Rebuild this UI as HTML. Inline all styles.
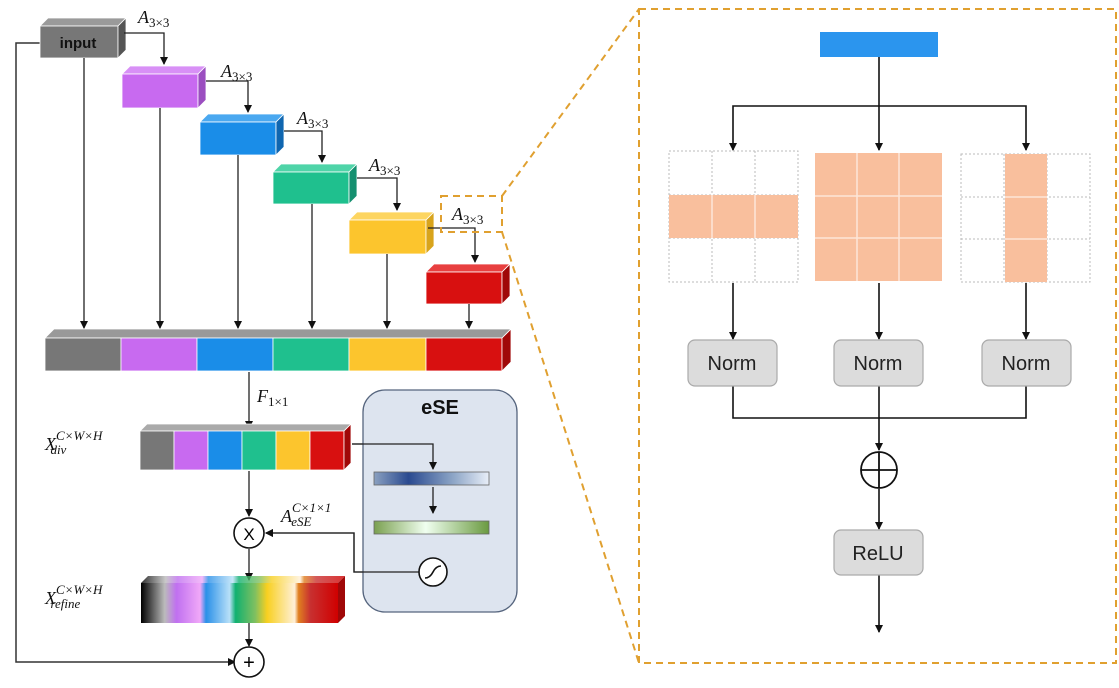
<!DOCTYPE html>
<html><head><meta charset="utf-8"><style>html,body{margin:0;padding:0;background:#fff}svg{display:block}</style></head>
<body>
<svg width="1119" height="688" viewBox="0 0 1119 688" xmlns="http://www.w3.org/2000/svg" font-family="Liberation Serif, serif">
<defs>
<marker id="ar" markerWidth="8" markerHeight="8" refX="7" refY="4" orient="auto" markerUnits="userSpaceOnUse"><path d="M0,0 L8,4 L0,8 z" fill="#111"/></marker>
<linearGradient id="rf" x1="0" x2="1">
<stop offset="0" stop-color="#000"/><stop offset="0.12" stop-color="#bbb"/><stop offset="0.18" stop-color="#c070f0"/><stop offset="0.3" stop-color="#f0a8f8"/><stop offset="0.33" stop-color="#2a90e8"/><stop offset="0.45" stop-color="#b8e0f8"/><stop offset="0.48" stop-color="#10b070"/><stop offset="0.58" stop-color="#80c060"/><stop offset="0.64" stop-color="#f8d020"/><stop offset="0.78" stop-color="#fff0d8"/><stop offset="0.8" stop-color="#e08020"/><stop offset="0.86" stop-color="#c83030"/><stop offset="1" stop-color="#d00000"/></linearGradient>
<linearGradient id="b1" x1="0" x2="1"><stop offset="0" stop-color="#8aa0c0"/><stop offset="0.3" stop-color="#2a4a90"/><stop offset="0.7" stop-color="#90a8c8"/><stop offset="1" stop-color="#e8eef8"/></linearGradient>
<linearGradient id="b2" x1="0" x2="1"><stop offset="0" stop-color="#7aa050"/><stop offset="0.45" stop-color="#f0fff0"/><stop offset="1" stop-color="#6a9a40"/></linearGradient>
</defs>

<!-- left skip line -->
<polyline points="40,43 16,43 16,662 235,662" fill="none" stroke="#333" stroke-width="1.5" marker-end="url(#ar)"/>

<!-- boxes -->
<g stroke="#fff" stroke-width="0.8">
<polygon points="40,26 48,18 126,18 118,26" fill="#9a9a9a"/><rect x="40" y="26" width="78" height="32" fill="#777"/><polygon points="118,26 126,18 126,50 118,58" fill="#555"/>
<polygon points="122,74 130,66 206,66 198,74" fill="#d890f6"/><rect x="122" y="74" width="76" height="34" fill="#c86af0"/><polygon points="198,74 206,66 206,100 198,108" fill="#9b4ec0"/>
<polygon points="200,122 208,114 284,114 276,122" fill="#4aa8f0"/><rect x="200" y="122" width="76" height="33" fill="#1a8de8"/><polygon points="276,122 284,114 284,147 276,155" fill="#0f66b0"/>
<polygon points="273,172 281,164 357,164 349,172" fill="#4fd4a8"/><rect x="273" y="172" width="76" height="32" fill="#1fc08e"/><polygon points="349,172 357,164 357,196 349,204" fill="#159070"/>
<polygon points="349,220 357,212 434,212 426,220" fill="#fdd560"/><rect x="349" y="220" width="77" height="34" fill="#fcc52d"/><polygon points="426,220 434,212 434,246 426,254" fill="#d8a41c"/>
<polygon points="426,272 434,264 510,264 502,272" fill="#e84040"/><rect x="426" y="272" width="76" height="32" fill="#d81010"/><polygon points="502,272 510,264 510,296 502,304" fill="#a00808"/>
</g>
<text x="78" y="48" font-family="Liberation Sans, sans-serif" font-weight="bold" font-size="15" text-anchor="middle" fill="#111">input</text>

<!-- bottom bar -->
<g stroke="#fff" stroke-width="0.8">
<polygon points="45,338 54,329 511,329 502,338" fill="#999"/>
<rect x="45" y="338" width="76" height="33" fill="#777"/>
<rect x="121" y="338" width="76" height="33" fill="#c86af0"/>
<rect x="197" y="338" width="76" height="33" fill="#1a8de8"/>
<rect x="273" y="338" width="76" height="33" fill="#1fc08e"/>
<rect x="349" y="338" width="77" height="33" fill="#fcc52d"/>
<rect x="426" y="338" width="76" height="33" fill="#d81010"/>
<polygon points="502,338 511,329 511,362 502,371" fill="#a00808"/>
</g>

<!-- vertical arrows to bar -->
<g stroke="#222" stroke-width="1.3" fill="none" marker-end="url(#ar)">
<line x1="84" y1="58" x2="84" y2="328"/>
<line x1="160" y1="108" x2="160" y2="328"/>
<line x1="238" y1="155" x2="238" y2="328"/>
<line x1="312" y1="204" x2="312" y2="328"/>
<line x1="387" y1="254" x2="387" y2="328"/>
<line x1="469" y1="304" x2="469" y2="328"/>
<polyline points="124,33 164,33 164,64"/>
<polyline points="206,81 248,81 248,112"/>
<polyline points="284,131 322,131 322,162"/>
<polyline points="357,178 397,178 397,210"/>
<polyline points="428,228 475,228 475,262"/>
<line x1="249" y1="372" x2="249" y2="428"/>
<line x1="249" y1="471" x2="249" y2="516"/>
<line x1="249" y1="549" x2="249" y2="580"/>
<line x1="249" y1="623" x2="249" y2="646"/>
<polyline points="352,444 433,444 433,469"/>
<line x1="433" y1="487" x2="433" y2="513"/>
<line x1="433" y1="535" x2="433" y2="556"/>
<polyline points="419,572 354,572 354,533 266,533"/>
</g>
<g font-style="italic" font-size="18" fill="#111">
<text x="138" y="23">A<tspan font-size="13" font-style="normal" dy="4">3×3</tspan></text>
<text x="221" y="77">A<tspan font-size="13" font-style="normal" dy="4">3×3</tspan></text>
<text x="297" y="124">A<tspan font-size="13" font-style="normal" dy="4">3×3</tspan></text>
<text x="369" y="171">A<tspan font-size="13" font-style="normal" dy="4">3×3</tspan></text>
<text x="452" y="220">A<tspan font-size="13" font-style="normal" dy="4">3×3</tspan></text>
<text x="257" y="402">F<tspan font-size="13" font-style="normal" dy="4">1×1</tspan></text>
<text x="380" y="440">F<tspan font-size="13" dy="4">avg</tspan></text>
<text x="441" y="506">W<tspan font-size="12" dy="4">C</tspan></text>
<text x="281" y="522">A<tspan font-size="13" dy="-10">C×1×1</tspan><tspan font-size="13" dx="-40" dy="14">eSE</tspan></text>
<text x="45" y="450">X<tspan font-size="13" dy="-10">C×W×H</tspan><tspan font-size="13" dx="-52" dy="14">div</tspan></text>
<text x="45" y="604">X<tspan font-size="13" dy="-10">C×W×H</tspan><tspan font-size="13" dx="-52" dy="14">refine</tspan></text>
</g>

<!-- dashed small box and connectors -->
<g stroke="#e0a030" stroke-width="2" stroke-dasharray="7,5" fill="none">
<rect x="441" y="196" width="61" height="36"/>
<line x1="502" y1="196" x2="639" y2="9"/>
<line x1="502" y1="232" x2="639" y2="663"/>
<rect x="639" y="9" width="477" height="654"/>
</g>

<!-- X_div bar -->
<g stroke="#fff" stroke-width="0.8">
<polygon points="140,431 147,424 351,424 344,431" fill="#aaa"/>
<rect x="140" y="431" width="34" height="39" fill="#777"/>
<rect x="174" y="431" width="34" height="39" fill="#c86af0"/>
<rect x="208" y="431" width="34" height="39" fill="#1a8de8"/>
<rect x="242" y="431" width="34" height="39" fill="#1fc08e"/>
<rect x="276" y="431" width="34" height="39" fill="#fcc52d"/>
<rect x="310" y="431" width="34" height="39" fill="#d81010"/>
<polygon points="344,431 351,424 351,463 344,470" fill="#a00808"/>
</g>
<!-- refine -->
<polygon points="141,583 148,576 345,576 338,583" fill="url(#rf)" opacity="0.8"/>
<rect x="141" y="583" width="197" height="40" fill="url(#rf)"/>
<polygon points="338,583 345,576 345,616 338,623" fill="#a00808"/>

<!-- circles -->
<circle cx="249" cy="533" r="15" fill="#fff" stroke="#111" stroke-width="1.6"/>
<text x="249" y="540" font-family="Liberation Sans, sans-serif" font-size="17" text-anchor="middle">X</text>
<circle cx="249" cy="662" r="15" fill="#fff" stroke="#111" stroke-width="1.6"/>
<text x="249" y="669" font-family="Liberation Sans, sans-serif" font-size="20" text-anchor="middle">+</text>

<!-- eSE -->
<rect x="363" y="390" width="154" height="222" rx="22" fill="#dde4ef" stroke="#56657e" stroke-width="1.3"/>
<text x="440" y="414" font-family="Liberation Sans, sans-serif" font-weight="bold" font-size="20" text-anchor="middle" fill="#111">eSE</text>
<polyline points="352,444 433,444 433,469" stroke="#222" stroke-width="1.3" fill="none" marker-end="url(#ar)"/>
<rect x="374" y="472" width="115" height="13" fill="url(#b1)" stroke="#666" stroke-width="0.8"/>
<polyline points="433,487 433,513" stroke="#222" stroke-width="1.3" fill="none" marker-end="url(#ar)"/>
<rect x="374" y="521" width="115" height="13" fill="url(#b2)" stroke="#666" stroke-width="0.8"/>
<polyline points="419,572 354,572 354,533 266,533" stroke="#222" stroke-width="1.3" fill="none" marker-end="url(#ar)"/>
<circle cx="433" cy="572" r="14" fill="#fff" stroke="#111" stroke-width="1.6"/>
<path d="M425,578 Q430,578 433,572 Q436,566 441,566" fill="none" stroke="#111" stroke-width="1.6"/>

<!-- right panel -->
<rect x="820" y="32" width="118" height="25" fill="#2b95ee"/>
<g stroke="#111" stroke-width="1.6" fill="none" marker-end="url(#ar)">
<line x1="879" y1="57" x2="879" y2="150"/>
<polyline points="879,106 733,106 733,150" marker-end="url(#ar)"/>
<polyline points="879,106 1026,106 1026,150"/>
<line x1="733" y1="283" x2="733" y2="339"/>
<line x1="879" y1="283" x2="879" y2="339"/>
<line x1="1026" y1="283" x2="1026" y2="339"/>
<polyline points="733,386 733,418 879,418 879,450"/>
<polyline points="1026,386 1026,418 879,418" marker-end="none"/>
<line x1="879" y1="386" x2="879" y2="418" marker-end="none"/>
<line x1="879" y1="489" x2="879" y2="529"/>
<line x1="879" y1="575" x2="879" y2="632"/>
</g>
<!-- grids -->
<g stroke="#bbb" stroke-width="1" stroke-dasharray="2,2" fill="none">
<rect x="669" y="151" width="129" height="131"/>
<line x1="712" y1="151" x2="712" y2="282"/><line x1="755" y1="151" x2="755" y2="282"/>
<line x1="669" y1="195" x2="798" y2="195"/><line x1="669" y1="238" x2="798" y2="238"/>
<rect x="961" y="154" width="129" height="128"/>
<line x1="1004" y1="154" x2="1004" y2="282"/><line x1="1047" y1="154" x2="1047" y2="282"/>
<line x1="961" y1="197" x2="1090" y2="197"/><line x1="961" y1="239" x2="1090" y2="239"/>
</g>
<rect x="669" y="195" width="129" height="43" fill="#f9bf9d"/>
<rect x="815" y="153" width="127" height="128" fill="#f9bf9d"/>
<rect x="1005" y="154" width="42" height="128" fill="#f9bf9d"/>
<g stroke="#fde6d8" stroke-width="1.5">
<line x1="712" y1="195" x2="712" y2="238"/><line x1="755" y1="195" x2="755" y2="238"/>
<line x1="857" y1="153" x2="857" y2="281"/><line x1="899" y1="153" x2="899" y2="281"/>
<line x1="815" y1="196" x2="942" y2="196"/><line x1="815" y1="238" x2="942" y2="238"/>
<line x1="1005" y1="197" x2="1047" y2="197"/><line x1="1005" y1="239" x2="1047" y2="239"/>
</g>
<!-- norm boxes -->
<g fill="#dcdcdc" stroke="#aaa" stroke-width="1.2">
<rect x="688" y="340" width="89" height="46" rx="7"/>
<rect x="834" y="340" width="89" height="46" rx="7"/>
<rect x="982" y="340" width="89" height="46" rx="7"/>
<rect x="834" y="530" width="89" height="45" rx="7"/>
</g>
<g font-family="Liberation Sans, sans-serif" font-size="20" text-anchor="middle" fill="#222">
<text x="732" y="370">Norm</text><text x="878" y="370">Norm</text><text x="1026" y="370">Norm</text>
<text x="878" y="560">ReLU</text>
</g>
<circle cx="879" cy="470" r="18" fill="#fff" stroke="#111" stroke-width="1.8"/>
<line x1="861" y1="470" x2="897" y2="470" stroke="#111" stroke-width="1.8"/>
<line x1="879" y1="452" x2="879" y2="488" stroke="#111" stroke-width="1.8"/>
</svg>
</body></html>
